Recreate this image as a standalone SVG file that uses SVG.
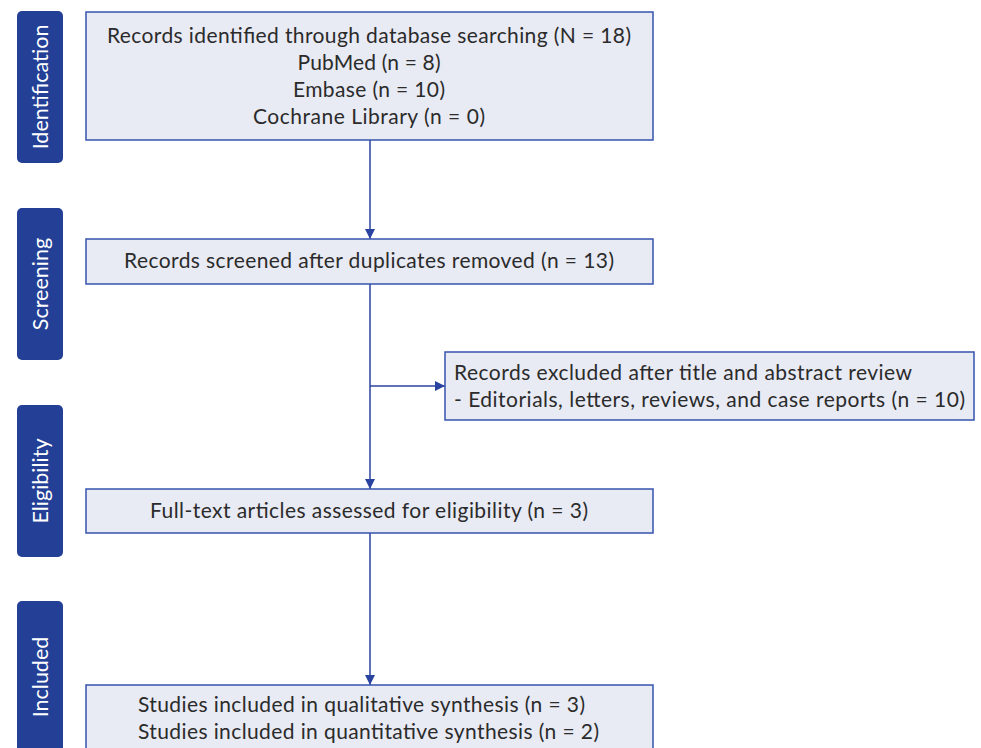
<svg xmlns="http://www.w3.org/2000/svg" width="981" height="748" viewBox="0 0 981 748">
<style>
.lab{fill:#233f96}
.labt{fill:#ffffff;font-family:Lato,"Liberation Sans",sans-serif;font-size:21.5px;text-anchor:middle;dominant-baseline:central}
.box{fill:#e8eaf4;stroke:#3653ad;stroke-width:1.5}
.t{fill:#2b2b2b;font-family:Lato,"Liberation Sans",sans-serif;font-size:21px}
.c{text-anchor:middle}
.conn{stroke:#2a43a0;stroke-width:1.5;fill:none}
</style>
<defs>
<marker id="ah" viewBox="0 0 10 10" refX="10" refY="5" markerWidth="10" markerHeight="10" markerUnits="userSpaceOnUse" orient="auto">
<path d="M0,0 L10,5 L0,10 Z" fill="#2a43a0"/>
</marker>
</defs>
<rect width="981" height="748" fill="#ffffff"/>
<g id="stage-identification"><rect class="lab" x="17" y="11" width="46" height="152" rx="5"/><text class="labt" transform="translate(40,87) rotate(-90)">Identification</text></g>
<g id="stage-screening"><rect class="lab" x="17" y="208" width="46" height="152" rx="5"/><text class="labt" transform="translate(40,284) rotate(-90)">Screening</text></g>
<g id="stage-eligibility"><rect class="lab" x="17" y="405" width="46" height="152" rx="5"/><text class="labt" transform="translate(40,481) rotate(-90)">Eligibility</text></g>
<g id="stage-included"><rect class="lab" x="17" y="601" width="46" height="160" rx="5"/><text class="labt" transform="translate(40,677) rotate(-90)">Included</text></g>
<g id="connectors">
<line class="conn" x1="370" y1="140" x2="370" y2="239" marker-end="url(#ah)"/>
<line class="conn" x1="370" y1="284" x2="370" y2="489" marker-end="url(#ah)"/>
<line class="conn" x1="370" y1="386" x2="445" y2="386" marker-end="url(#ah)"/>
<line class="conn" x1="370" y1="533" x2="370" y2="685" marker-end="url(#ah)"/>
</g>
<g id="identified"><rect class="box" x="86" y="12" width="567" height="128"/>
<text class="t c" x="369" y="43" textLength="524">Records identified through database searching (N = 18)</text>
<text class="t c" x="369" y="70" textLength="143">PubMed (n = 8)</text>
<text class="t c" x="369" y="97" textLength="152">Embase (n = 10)</text>
<text class="t c" x="369" y="124" textLength="232">Cochrane Library (n = 0)</text></g>
<g id="screened"><rect class="box" x="86" y="239" width="567" height="45"/>
<text class="t c" x="369" y="268" textLength="490">Records screened after duplicates removed (n = 13)</text></g>
<g id="excluded"><rect class="box" x="445" y="352" width="529" height="68"/>
<text class="t" x="454" y="380" textLength="458">Records excluded after title and abstract review</text>
<text class="t" x="454" y="407" textLength="511">- Editorials, letters, reviews, and case reports (n = 10)</text></g>
<g id="fulltext"><rect class="box" x="86" y="489" width="567" height="44"/>
<text class="t c" x="369" y="518" textLength="438">Full-text articles assessed for eligibility (n = 3)</text></g>
<g id="included"><rect class="box" x="86" y="685" width="567" height="80"/>
<text class="t" x="138" y="712" textLength="447">Studies included in qualitative synthesis (n = 3)</text>
<text class="t" x="138" y="739" textLength="461">Studies included in quantitative synthesis (n = 2)</text></g>
</svg>
